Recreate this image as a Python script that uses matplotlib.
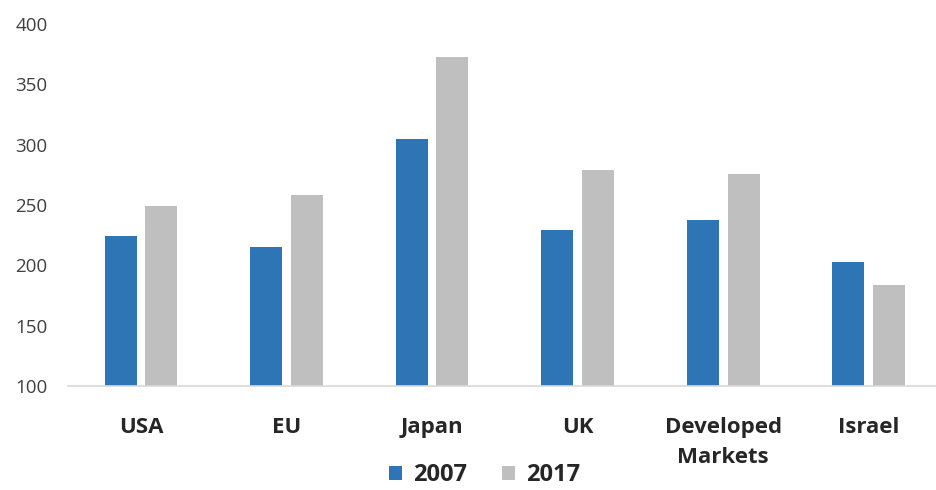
import numpy as np
import matplotlib.pyplot as plt

categories = ['USA', 'EU', 'Japan', 'UK', 'Developed\nMarkets', 'Israel']
vals_2007 = [224, 215, 305, 229, 238, 203]
vals_2017 = [249, 258, 373, 279, 276, 184]
yticks = [100, 150, 200, 250, 300, 350, 400]

plt.rcParams['font.family'] = ['Open Sans', 'DejaVu Sans']

fig = plt.figure(figsize=(9.37, 4.90), dpi=100)
ax = fig.add_axes([0.0728, 0.212, 0.932, 0.739])

x = np.arange(len(categories))
w = 0.22
ax.bar(x - 0.14, vals_2007, w, color='#2E75B6', label='2007', zorder=2)
ax.bar(x + 0.14, vals_2017, w, color='#BFBFBF', label='2017', zorder=2)

ax.set_xlim(-0.5, len(categories) - 0.5)
ax.set_ylim(100, 400)
ax.set_yticks(yticks)
ax.tick_params(axis='y', length=0, labelsize=13.5, labelcolor='#404040', pad=15)
ax.set_xticks(x)
ax.set_xticklabels(categories, fontsize=16, fontweight='bold', color='#262626', linespacing=1.6)
ax.tick_params(axis='x', length=0, pad=22)
for s in ['top', 'right', 'left']:
    ax.spines[s].set_visible(False)
ax.spines['bottom'].set_color('#D9D9D9')
ax.spines['bottom'].set_linewidth(1.2)

fig.legend(loc='center', bbox_to_anchor=(0.517, 0.03), ncol=2, frameon=False,
           prop={'size': 17, 'weight': 'bold'}, handlelength=0.55, handleheight=0.55,
           handletextpad=0.45, columnspacing=1.5, labelcolor='#262626',
           borderpad=0.1)

fig.savefig('out.png', dpi=100)
